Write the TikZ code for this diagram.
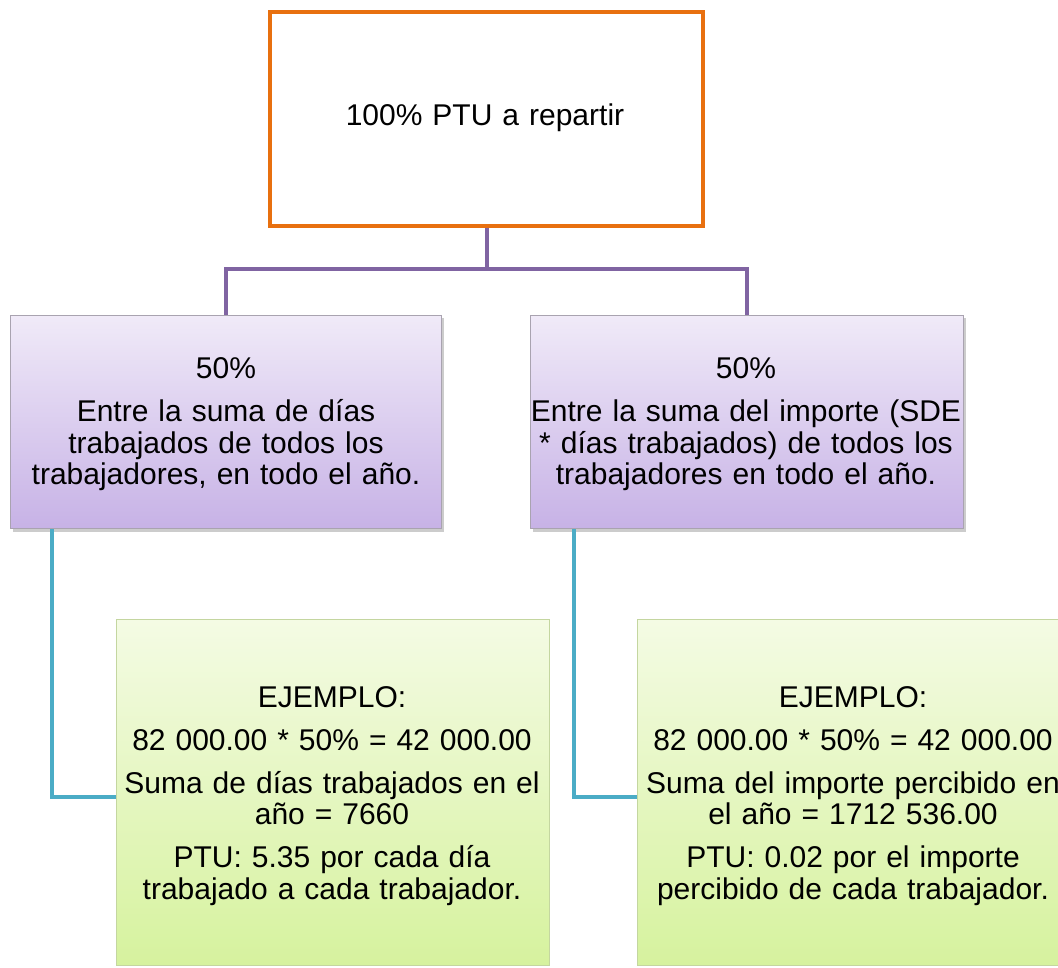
\documentclass[tikz,border=0pt]{standalone}
\usepackage{fontspec}
\setmainfont{Liberation Sans}
\usetikzlibrary{shadows}
\definecolor{orangeline}{HTML}{E8700F}
\definecolor{purpleline}{HTML}{8064A2}
\definecolor{tealline}{HTML}{4BACC6}
\definecolor{lavtop}{HTML}{F0EAF8}
\definecolor{lavbot}{HTML}{C7B2E6}
\definecolor{lavedge}{HTML}{A9A3B0}
\definecolor{greentop}{HTML}{F4FBE4}
\definecolor{greenbot}{HTML}{D6F29E}
\definecolor{greenedge}{HTML}{C4D6A0}
\tikzset{
  txt/.style={font=\fontsize{30}{31.5}\selectfont, align=center, text width=#1, inner sep=0pt, anchor=base},
  topbox/.style={draw=orangeline, line width=4pt, fill=white, inner sep=0pt, anchor=north west},
  purplebox/.style={draw=lavedge, line width=1pt, top color=lavtop, bottom color=lavbot, inner sep=0pt, anchor=north west,
    drop shadow={shadow xshift=2pt, shadow yshift=-3pt, opacity=0.4}},
  greenbox/.style={draw=greenedge, line width=1.2pt, top color=greentop, bottom color=greenbot, inner sep=0pt, anchor=north west},
  purpleconn/.style={draw=purpleline, line width=4pt},
  tealconn/.style={draw=tealline, line width=4pt},
}
\begin{document}
\begin{tikzpicture}[x=1pt, y=-1pt]
\useasboundingbox (0,0) rectangle (1058,968);
\fill[white] (0,0) rectangle (1058,968);
\clip (0,0) rectangle (1058,968);

% boxes
\node[topbox, minimum width=433pt, minimum height=214pt] (top) at (268,10) {};
\node[purplebox, minimum width=431pt, minimum height=213pt] (pL) at (10,315) {};
\node[purplebox, minimum width=433pt, minimum height=213pt] (pR) at (530,315) {};
\node[greenbox, minimum width=433pt, minimum height=346pt] (gL) at (116,619) {};
\node[greenbox, minimum width=432pt, minimum height=346pt] (gR) at (637,619) {};

% connectors
\coordinate (jn) at (top.south |- 0,269);
\draw[purpleconn] (top.south) -- (jn);
\draw[purpleconn] (pL.north) |- (jn) -| (pR.north);
\draw[tealconn] ([xshift=42pt]pL.south west) |- ([yshift=-4pt]gL.west);
\draw[tealconn] ([xshift=44pt]pR.south west) |- ([yshift=-4pt]gR.west);

% texts
\node[txt=440pt] (tTop) at (485,126) {100\% PTU a repartir};
\node[txt=440pt] (tPL) at (226,379) {50\%\\[11.5pt]Entre la suma de días\\trabajados de todos los\\trabajadores, en todo el año.};
\node[txt=440pt] (tPR) at (746,379) {50\%\\[11.5pt]Entre la suma del importe (SDE\\{}* días trabajados) de todos los\\trabajadores en todo el año.};
\node[txt=440pt] (tGL) at (332,707) {EJEMPLO:\\[11.5pt]82 000.00 * 50\% = 42 000.00\\[11.5pt]Suma de días trabajados en el\\año = 7660\\[11.5pt]PTU: 5.35 por cada día\\trabajado a cada trabajador.};
\node[txt=440pt] (tGR) at (853,707) {EJEMPLO:\\[11.5pt]82 000.00 * 50\% = 42 000.00\\[11.5pt]Suma del importe percibido en\\el año = 1712 536.00\\[11.5pt]PTU: 0.02 por el importe\\percibido de cada trabajador.};
\end{tikzpicture}
\end{document}
